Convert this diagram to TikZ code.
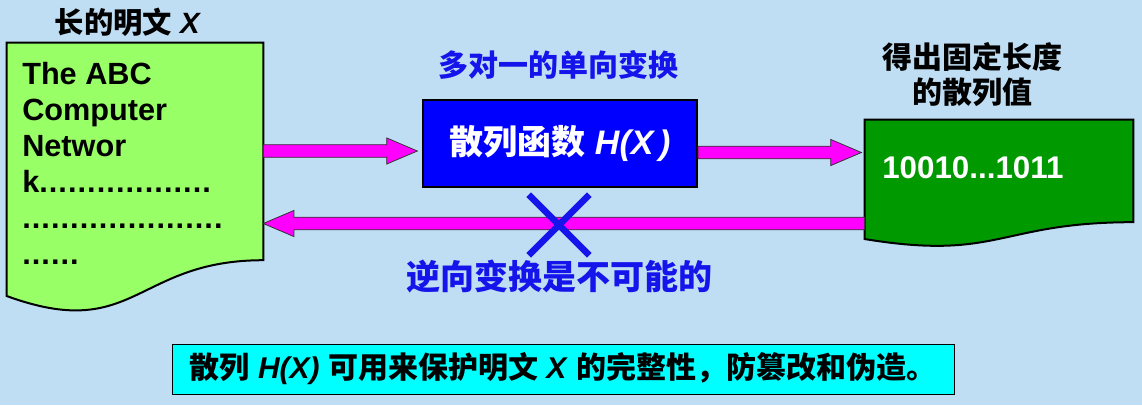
\documentclass[tikz,border=0pt]{standalone}
\usepackage{fontspec}
\setmainfont{Liberation Sans}
\newfontfamily\cjk{Noto Sans CJK SC}
\usetikzlibrary{calc,shapes.misc}

\definecolor{bg}{RGB}{191,222,243}
\definecolor{paper}{RGB}{153,255,102}
\definecolor{digestgreen}{RGB}{0,153,0}
\definecolor{hashblue}{RGB}{0,0,255}
\definecolor{labelblue}{RGB}{20,20,235}
\definecolor{notecyan}{RGB}{0,255,255}
\definecolor{arrowpink}{RGB}{255,0,255}

\newcommand\zh[1]{{\cjk #1}}
\newcommand\dotrun[1]{\foreach \i in {1,...,#1}{.\kern0.8pt}}
% document symbol with a wavy bottom edge, drawn over a named node
\newcommand\docshape[2]{%
  \draw[docline, fill=#2] (#1.north west) -- (#1.north east)
    -- ($(#1.north east)!0.802!(#1.south east)$)
    .. controls ($(#1.north)!0.802!(#1.south)$) and ($(#1.north)!1.107!(#1.south)$)
    .. ($(#1.north west)!0.934!(#1.south west)$) -- cycle;}
% fat block arrow from node #2 to node #3 along row #4, tip gap #1
\newcommand\fatarrow[4][0pt]{%
  \draw[fat] let \p1=(#2), \p2=(#3), \p3=(#4), \n1={sign(\x2-\x1)} in
    (\x1,{\y3+4.7pt}) -- ({\x2-(\n1)*(#1+23pt)},{\y3+4.7pt})
    -- ({\x2-(\n1)*(#1+23pt)},{\y3+9.8pt}) -- ({\x2-(\n1)*(#1)},\y3)
    -- ({\x2-(\n1)*(#1+23pt)},{\y3-9.8pt}) -- ({\x2-(\n1)*(#1+23pt)},{\y3-4.7pt})
    -- (\x1,{\y3-4.7pt}) -- cycle;}

\begin{document}
\begin{tikzpicture}[x=0.75pt, y=-0.75pt,
    doc/.style={draw=none, inner sep=0pt},
    docline/.style={draw=black, line width=1.5pt},
    fat/.style={fill=arrowpink, draw=black!80, line width=0.6pt},
    lbl/.style={inner sep=0pt, font=\fontsize{22pt}{26pt}\selectfont\bfseries},
    bluelbl/.style={lbl, text=labelblue},
    hashbox/.style={draw=black, line width=1.5pt, fill=hashblue, text=white,
      minimum width=205.5pt, minimum height=65.25pt, inner sep=0pt,
      font=\fontsize{25.5pt}{30pt}\selectfont\bfseries},
    notebox/.style={draw=black, line width=0.75pt, fill=notecyan,
      minimum width=586.5pt, minimum height=37.5pt, inner sep=0pt,
      font=\fontsize{22.5pt}{26pt}\selectfont\bfseries}]
    \fill[bg] (0,0) rectangle (1142,405);

    \node[doc, minimum width=192pt, minimum height=203pt] (plain) at (135,178.3) {};
    \node[doc, minimum width=201pt, minimum height=95.4pt] (digest) at (999,183.6) {};
    \docshape{plain}{paper}
    \docshape{digest}{digestgreen}

    \node[lbl] (plaintitle) at (128,22) {\zh{长的明文} \textit{X}};
    \node[lbl, align=left, anchor=north west, font=\fontsize{23pt}{27pt}\selectfont\bfseries]
      (plaintext) at (22,62) {The ABC\\Computer\\Networ\\k\dotrun{18}\\\dotrun{21}\\\dotrun{6}};
    \node[lbl, align=center, font=\fontsize{22.5pt}{26.3pt}\selectfont\bfseries]
      (digesttitle) at (972,75) {\zh{得出固定长度}\\\zh{的散列值}};
    \node[lbl, text=white, anchor=west, font=\fontsize{23.5pt}{27pt}\selectfont\bfseries]
      (digesttext) at (882,168) {10010...1011};

    \node[hashbox] (hash) at (560,143.5) {\zh{散列函数} \textit{H(X\,)}};
    \node[bluelbl, font=\fontsize{22.5pt}{26pt}\selectfont\bfseries] (oneway) at (558,65) {\zh{多对一的单向变换}};
    \node[bluelbl, font=\fontsize{25.5pt}{30pt}\selectfont\bfseries] (noway) at (559,277) {\zh{逆向变换是不可能的}};

    \coordinate (row1) at (0,151);
    \coordinate (row2) at (0,152.5);
    \coordinate (row3) at (0,223.5);
    \fatarrow[3.5pt]{plain.east}{hash.west}{row1}
    \fatarrow[2.5pt]{hash.east}{digest.west}{row2}
    \fatarrow{digest.west}{plain.east}{row3}

    \node[cross out, draw=labelblue, line width=5pt, minimum size=40.5pt, inner sep=0pt] (nope) at (559,225) {};

    \node[notebox] (note) at (563,369) {\zh{散列} \textit{H(X)} \zh{可用来保护明文} \textit{X} \zh{的完整性，防篡改和伪造。}};
\end{tikzpicture}
\end{document}
